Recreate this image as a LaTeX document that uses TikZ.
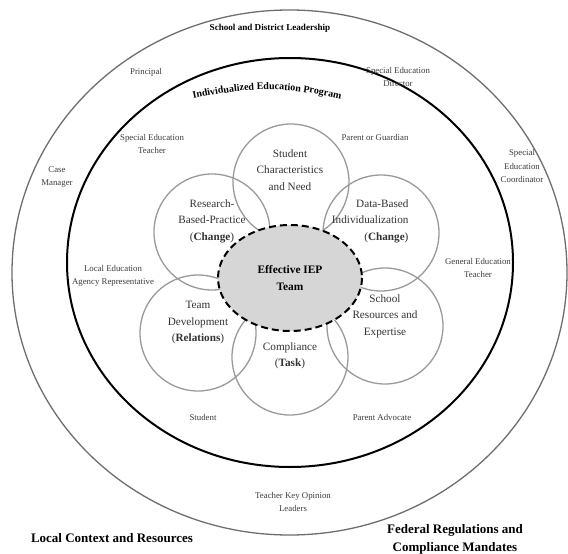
\documentclass[tikz,border=0pt]{standalone}
\usepackage{fontspec}
\setmainfont{Liberation Serif}
\usetikzlibrary{decorations.text}
\definecolor{ringgray}{HTML}{6E6E6E}
\definecolor{petalgray}{HTML}{9A9A9A}
\definecolor{coregray}{HTML}{D6D6D6}
\definecolor{labelgray}{HTML}{3C3C3C}
\tikzset{
  member/.style={font=\fontsize{8.8}{13.5}\selectfont, text=labelgray, align=center},
  petaltext/.style={font=\fontsize{11.2}{16.5}\selectfont, text=black!80, align=center},
  petal/.style={draw=petalgray, line width=1.3pt},
  heading/.style={font=\bfseries\fontsize{13}{18}\selectfont, align=center},
}
\begin{document}
\begin{tikzpicture}[x=1pt, y=-1pt]
	\useasboundingbox (0,0) rectangle (568,554);
	\fill[white] (0,0) rectangle (568,554);

	% Rings
	\draw[ringgray, line width=1.3pt] (289.5,272.5) ellipse [x radius=277.5, y radius=262.5];
	\draw[black, line width=2pt] (290,262.5) ellipse [x radius=223, y radius=204.5];

	% Petals
	\draw[petal] (291,182) circle [radius=58];
	\draw[petal] (212,232) circle [radius=58];
	\draw[petal] (381,233) circle [radius=58];
	\draw[petal] (198,333) circle [radius=58];
	\draw[petal] (290,357) circle [radius=58];
	\draw[petal] (385,326) circle [radius=58];

	% Core
	\draw[fill=coregray, line width=2pt, dash pattern=on 7pt off 4pt] (290,278) ellipse [x radius=72, y radius=53];
	\node[font=\bfseries\fontsize{11.4}{16.5}\selectfont, align=center] (core) at (290,278) {Effective IEP\\Team};

	\node[petaltext] (need) at (290,170) {Student\\Characteristics\\and Need};
	\node[petaltext] (research) at (212,221) {Research-\\Based-Practice\\(\textbf{Change})};
	\node[petaltext, align=right, anchor=east] (data) at (412,221) {Data-Based\\Individualization\\(\textbf{Change})};
	\node[petaltext] (teamdev) at (198,323) {Team\\Development\\(\textbf{Relations})};
	\node[petaltext] (compliance) at (290,356) {Compliance\\(\textbf{Task})};
	\node[petaltext] (resources) at (385,316) {School\\Resources and\\Expertise};

	% Inner ring members
	\path[decorate, decoration={text along path, text align=center,
		text={|\bfseries\fontsize{10}{12}\selectfont|Individualized Education Program}}]
		(188,100) to[bend left=13] (346,100);
	\node[member] (spedteacher) at (152,144) {Special Education\\Teacher};
	\node[member] (guardian) at (375,137) {Parent or Guardian};
	\node[member] (lea) at (113,276) {Local Education\\Agency Representative};
	\node[member] (genteacher) at (478,268) {General Education\\Teacher};
	\node[member] (student) at (203,417) {Student};
	\node[member] (advocate) at (382,417) {Parent Advocate};

	% Outer ring members
	\node[font=\bfseries\fontsize{9.1}{11}\selectfont] (leadership) at (270,28) {School and District Leadership};
	\node[member] (principal) at (146,72) {Principal};
	\node[member] (director) at (398,77) {Special Education\\Director};
	\node[member] (casemgr) at (57,177) {Case\\Manager};
	\node[member] (coordinator) at (522,166) {Special\\Education\\Coordinator};
	\node[member] (opinion) at (293,502) {Teacher Key Opinion\\Leaders};

	% Context
	\node[heading] (local) at (112,538) {Local Context and Resources};
	\node[heading] (federal) at (455,539) {Federal Regulations and\\Compliance Mandates};

\end{tikzpicture}
\end{document}
